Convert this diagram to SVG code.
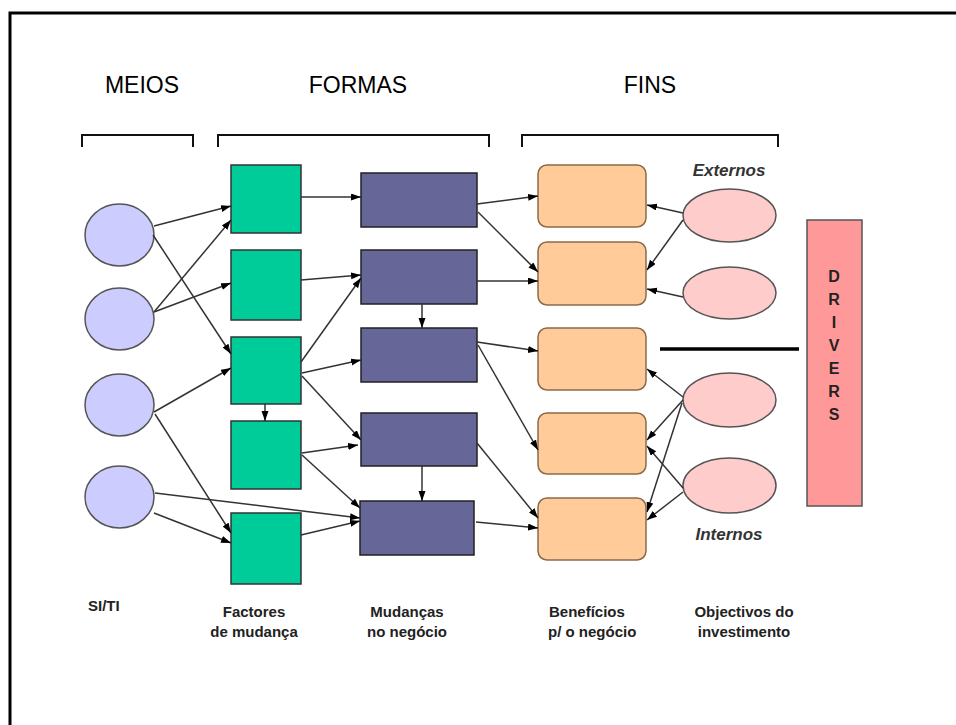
<svg xmlns="http://www.w3.org/2000/svg" width="956" height="725" viewBox="0 0 956 725">
<style>
.hdr{font-family:"Liberation Sans",Arial,sans-serif;font-size:23px;fill:#000;text-anchor:middle}
.lbl{font-family:"Liberation Sans",Arial,sans-serif;font-size:15px;font-weight:bold;fill:#222}
.it{font-family:"Liberation Sans",Arial,sans-serif;font-size:17px;font-weight:bold;font-style:italic;fill:#333;text-anchor:middle}
.drv{font-family:"Liberation Sans",Arial,sans-serif;font-size:16px;font-weight:bold;fill:#222;text-anchor:middle}
.blue{fill:#ccccff;stroke:#555;stroke-width:1.5}
.green{fill:#00cc99;stroke:#333;stroke-width:1.5}
.purple{fill:#666699;stroke:#222;stroke-width:1.5}
.orange{fill:#ffcc99;stroke:#8a6a4a;stroke-width:1.5}
.pink{fill:#ffcccc;stroke:#555;stroke-width:1.5}
.br{fill:none;stroke:#111;stroke-width:2}
.c line{stroke:#333;stroke-width:1.5;marker-end:url(#ah)}
</style>
<defs>
<marker id="ah" markerUnits="userSpaceOnUse" markerWidth="11" markerHeight="8" refX="10" refY="3.5" orient="auto">
<path d="M0,0 L10,3.5 L0,7 z" fill="#000"/>
</marker>
</defs>
<rect width="956" height="725" fill="#fff"/>
<path d="M10,725 V13 H956" fill="none" stroke="#000" stroke-width="3"/>

<g id="headers">
<text class="hdr" x="142" y="93">MEIOS</text>
<text class="hdr" x="358" y="93">FORMAS</text>
<text class="hdr" x="650" y="93">FINS</text>
<path class="br" d="M82,147 V135 H193 V147"/>
<path class="br" d="M218,147 V135 H489 V147"/>
<path class="br" d="M522,147 V135 H778 V147"/>
</g>

<g id="b1"><ellipse class="blue" cx="119.5" cy="235" rx="34.5" ry="31"/></g>
<g id="b2"><ellipse class="blue" cx="119.5" cy="319" rx="34.5" ry="31"/></g>
<g id="b3"><ellipse class="blue" cx="119.5" cy="405" rx="34.5" ry="31"/></g>
<g id="b4"><ellipse class="blue" cx="119.5" cy="497" rx="34.5" ry="31"/></g>

<g id="g1"><rect class="green" x="231" y="165" width="70" height="68"/></g>
<g id="g2"><rect class="green" x="231" y="250" width="70" height="70"/></g>
<g id="g3"><rect class="green" x="231" y="337" width="70" height="67"/></g>
<g id="g4"><rect class="green" x="231" y="421" width="70" height="68"/></g>
<g id="g5"><rect class="green" x="231" y="513" width="70" height="71"/></g>

<g id="p1"><rect class="purple" x="361" y="173" width="116" height="54"/></g>
<g id="p2"><rect class="purple" x="361" y="250" width="116" height="54"/></g>
<g id="p3"><rect class="purple" x="361" y="328" width="116" height="54"/></g>
<g id="p4"><rect class="purple" x="361" y="413" width="116" height="53"/></g>
<g id="p5"><rect class="purple" x="360" y="501" width="114" height="54"/></g>

<g id="o1"><rect class="orange" x="538" y="165" width="108" height="62" rx="9"/></g>
<g id="o2"><rect class="orange" x="538" y="242" width="108" height="63" rx="9"/></g>
<g id="o3"><rect class="orange" x="538" y="328" width="108" height="62" rx="9"/></g>
<g id="o4"><rect class="orange" x="538" y="413" width="108" height="61" rx="9"/></g>
<g id="o5"><rect class="orange" x="538" y="498" width="108" height="62" rx="9"/></g>

<g id="k1"><ellipse class="pink" cx="729.5" cy="215.5" rx="46.5" ry="26.5"/></g>
<g id="k2"><ellipse class="pink" cx="729.5" cy="293" rx="46.5" ry="26"/></g>
<g id="k3"><ellipse class="pink" cx="729.5" cy="400" rx="46.5" ry="27"/></g>
<g id="k4"><ellipse class="pink" cx="729.5" cy="485.5" rx="46.5" ry="27.5"/></g>

<g id="drivers">
<rect x="807" y="220" width="55" height="286" fill="#ff9999" stroke="#555" stroke-width="1.5"/>
<text class="drv" x="834" y="282">D</text>
<text class="drv" x="834" y="305">R</text>
<text class="drv" x="834" y="328">I</text>
<text class="drv" x="834" y="351">V</text>
<text class="drv" x="834" y="374">E</text>
<text class="drv" x="834" y="397">R</text>
<text class="drv" x="834" y="420">S</text>
</g>

<g id="separator"><line x1="660" y1="349" x2="799" y2="349" stroke="#000" stroke-width="3.5"/></g>

<g id="labels">
<text class="it" x="729" y="176">Externos</text>
<text class="it" x="729" y="540">Internos</text>
<text class="lbl" x="88" y="611">SI/TI</text>
<text class="lbl" x="254" y="617" text-anchor="middle">Factores</text>
<text class="lbl" x="254" y="637" text-anchor="middle">de mudança</text>
<text class="lbl" x="407" y="617" text-anchor="middle">Mudanças</text>
<text class="lbl" x="407" y="637" text-anchor="middle">no negócio</text>
<text class="lbl" x="549" y="617">Benefícios</text>
<text class="lbl" x="548" y="637">p/ o negócio</text>
<text class="lbl" x="744" y="617" text-anchor="middle">Objectivos do</text>
<text class="lbl" x="744" y="637" text-anchor="middle">investimento</text>
</g>

<g id="connectors" class="c">
<line x1="154" y1="226" x2="231" y2="206"/>
<line x1="153" y1="235" x2="231" y2="354"/>
<line x1="154" y1="312" x2="231" y2="220"/>
<line x1="154" y1="312" x2="231" y2="283"/>
<line x1="154" y1="412" x2="231" y2="368"/>
<line x1="155" y1="414" x2="231" y2="533"/>
<line x1="155" y1="493" x2="360" y2="518"/>
<line x1="154" y1="513" x2="231" y2="543"/>
<line x1="301" y1="197" x2="361" y2="197"/>
<line x1="301" y1="280" x2="361" y2="275"/>
<line x1="301" y1="362" x2="361" y2="278"/>
<line x1="302" y1="373" x2="361" y2="360"/>
<line x1="302" y1="376" x2="361" y2="440"/>
<line x1="265" y1="404" x2="265" y2="421"/>
<line x1="302" y1="453" x2="358" y2="445"/>
<line x1="302" y1="455" x2="360" y2="508"/>
<line x1="301" y1="535" x2="360" y2="521"/>
<line x1="422" y1="304" x2="422" y2="328"/>
<line x1="422" y1="466" x2="422" y2="501"/>
<line x1="477" y1="204" x2="538" y2="196"/>
<line x1="478" y1="212" x2="538" y2="272"/>
<line x1="477" y1="281" x2="538" y2="281"/>
<line x1="477" y1="342" x2="538" y2="351"/>
<line x1="478" y1="345" x2="538" y2="450"/>
<line x1="477" y1="443" x2="538" y2="518"/>
<line x1="476" y1="522" x2="538" y2="528"/>
<line x1="683" y1="213" x2="647" y2="205"/>
<line x1="683" y1="220" x2="647" y2="270"/>
<line x1="683" y1="297" x2="647" y2="289"/>
<line x1="683" y1="397" x2="647" y2="369"/>
<line x1="683" y1="400" x2="647" y2="440"/>
<line x1="682" y1="403" x2="647" y2="512"/>
<line x1="683" y1="488" x2="647" y2="446"/>
<line x1="683" y1="492" x2="647" y2="520"/>
</g>
</svg>
